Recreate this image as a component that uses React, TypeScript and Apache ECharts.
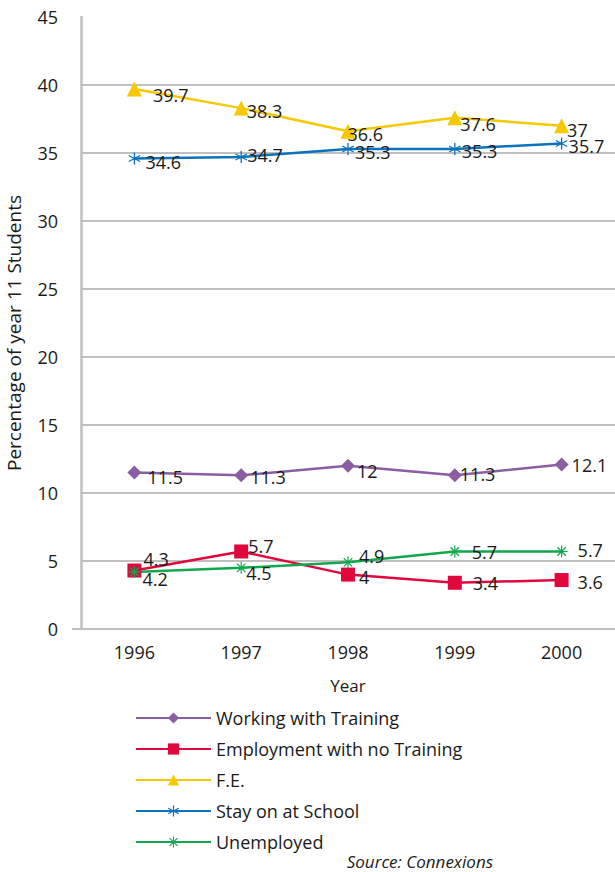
import React, { useEffect, useRef } from "react";
import * as echarts from "echarts";

// Destinations of year 11 students, 1996–2000 (percent)
const years = ["1996", "1997", "1998", "1999", "2000"];
const workingWithTraining = [11.5, 11.3, 12, 11.3, 12.1];
const employmentNoTraining = [4.3, 5.7, 4, 3.4, 3.6];
const furtherEducation = [39.7, 38.3, 36.6, 37.6, 37];
const stayOnAtSchool = [34.6, 34.7, 35.3, 35.3, 35.7];
const unemployed = [4.2, 4.5, 4.9, 5.7, 5.7];
const yTicks = [0, 5, 10, 15, 20, 25, 30, 35, 40, 45];

// Nudges for the value labels so they don't collide with neighbouring lines
const labelNudge: Record<string, number[][]> = {
  working: [[2, 4], [-2, 2], [-2, 5], [-6, -1], [-1, 1]],
  employment: [[-2, -12], [-4, -5], [0, 2], [7, 0], [5, 2]],
  fe: [[7, 6], [-6, 3], [-12, 3], [-6, 6], [-6, 4]],
  school: [[1, 4], [-4, -2], [-3, 3], [-3, 2], [-3, 3]],
  unemployed: [[-2, 7], [-5, 5], [1, -6], [7, 1], [6, -1]],
};

// Six-spoke asterisk
const asteriskSix =
  "path://M9 0L11 0L11 20L9 20Z" +
  "M0.84 5.866L1.84 4.134L19.16 14.134L18.16 15.866Z" +
  "M1.84 15.866L0.84 14.134L18.16 4.134L19.16 5.866Z";
// Eight-spoke asterisk
const asteriskEight =
  "path://M9 0L11 0L11 20L9 20Z" +
  "M0 9L20 9L20 11L0 11Z" +
  "M2.22 3.64L3.64 2.22L17.78 16.36L16.36 17.78Z" +
  "M3.64 17.78L2.22 16.36L16.36 2.22L17.78 3.64Z";

const FONT = "'Open Sans', 'Noto Sans', sans-serif";
const TEXT = "#1a1a1a";

export default function App() {
  const ref = useRef<HTMLDivElement>(null);

  useEffect(() => {
    document.body.style.margin = "0";
    if (!ref.current) return;
    const chart = echarts.init(ref.current, undefined, { renderer: "svg" });

    const mk = (
      name: string,
      values: number[],
      color: string,
      symbol: string,
      symbolSize: number,
      nudgeKey: string
    ) => ({
      name,
      type: "line",
      data: values.map((v, i) => ({
        value: v,
        label: { offset: labelNudge[nudgeKey][i] },
      })),
      symbol,
      symbolSize,
      lineStyle: { color, width: 2.5 },
      itemStyle: { color },
      label: {
        show: true,
        position: "right",
        distance: 4,
        color: TEXT,
        fontFamily: FONT,
        fontSize: 18,
      },
    });

    chart.setOption({
      animation: false,
      textStyle: { fontFamily: FONT },
      grid: {
        left: 81,
        right: 0,
        top: 17,
        bottom: 872 - 629,
        containLabel: false,
        outerBoundsMode: "none",
      },
      xAxis: {
        type: "category",
        data: years,
        boundaryGap: true,
        name: "Year",
        nameLocation: "middle",
        nameGap: 48,
        nameTextStyle: { color: TEXT, fontSize: 17, fontFamily: FONT },
        axisLine: { lineStyle: { color: "#bfbfbf", width: 2 } },
        axisTick: { show: false },
        axisLabel: { color: TEXT, fontSize: 18, fontFamily: FONT, margin: 14 },
      },
      yAxis: {
        type: "value",
        min: yTicks[0],
        max: yTicks[yTicks.length - 1],
        interval: 5,
        name: "Percentage of year 11 Students",
        nameLocation: "middle",
        nameGap: 58,
        nameTextStyle: {
          color: TEXT,
          fontSize: 19,
          fontFamily: FONT,
          padding: [0, 20, 0, 0],
        },
        axisLine: { show: true, lineStyle: { color: "#bfbfbf", width: 2.5 } },
        axisTick: { show: false },
        axisLabel: { color: TEXT, fontSize: 18, fontFamily: FONT, margin: 23 },
        splitLine: {
          lineStyle: {
            width: 2,
            color: yTicks.map((t, i) => (i === yTicks.length - 1 ? "rgba(0,0,0,0)" : "#c0c0c0")),
          },
        },
      },
      legend: {
        orient: "vertical",
        left: 130,
        top: 704,
        itemWidth: 75,
        itemHeight: 14,
        itemGap: 13,
        textStyle: { color: TEXT, fontSize: 18, fontFamily: FONT },
        data: [
          "Working with Training",
          "Employment with no Training",
          "F.E.",
          "Stay on at School",
          "Unemployed",
        ],
      },
      graphic: [
        {
          type: "line",
          shape: { x1: 72, y1: 629, x2: 81, y2: 629 },
          style: { stroke: "#bfbfbf", lineWidth: 2 },
        },
        {
          type: "text",
          right: 122,
          top: 853,
          style: {
            text: "Source: Connexions",
            fill: TEXT,
            font: `italic 17px ${FONT}`,
          },
        },
      ],
      series: [
        mk("Working with Training", workingWithTraining, "#8b5ea3", "diamond", 14, "working"),
        mk("Employment with no Training", employmentNoTraining, "#e0073d", "rect", 14, "employment"),
        mk("F.E.", furtherEducation, "#f5c800", "triangle", 15, "fe"),
        mk("Stay on at School", stayOnAtSchool, "#0b72bd", asteriskSix, 12, "school"),
        mk("Unemployed", unemployed, "#10a84c", asteriskEight, 12, "unemployed"),
      ],
    });

    return () => chart.dispose();
  }, []);

  return <div ref={ref} style={{ width: 615, height: 872 }} />;
}
